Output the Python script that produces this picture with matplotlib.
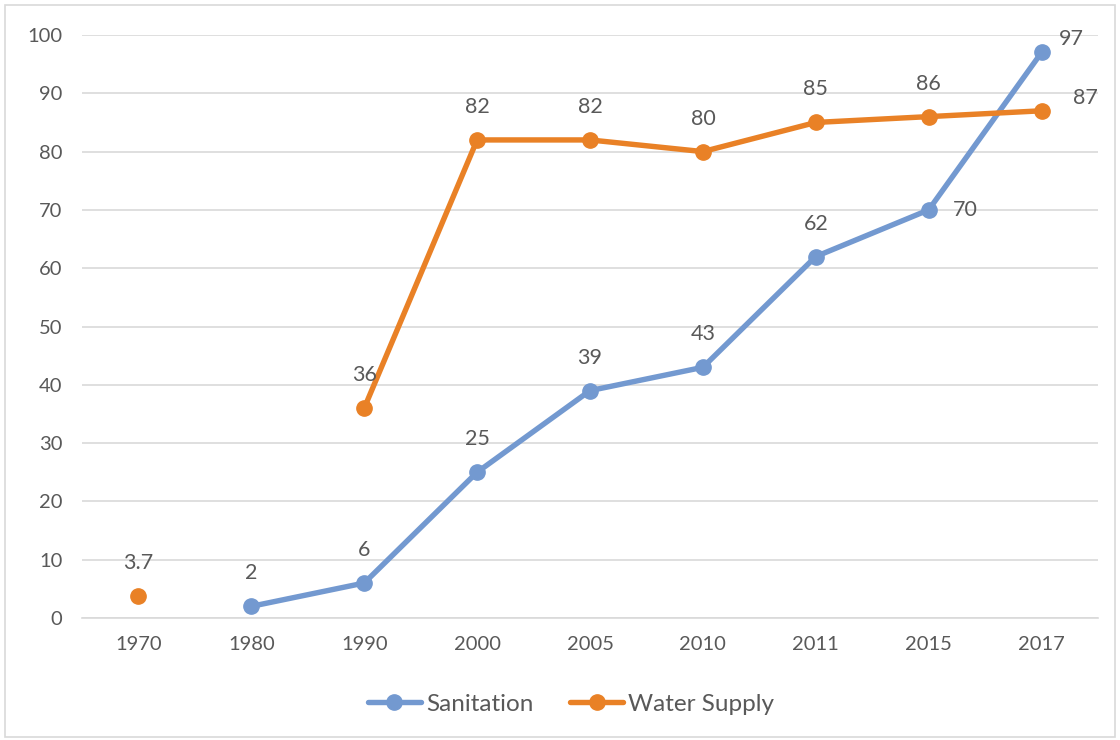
import numpy as np
import matplotlib
matplotlib.use("Agg")
import matplotlib.pyplot as plt
from matplotlib.patches import Rectangle

years = ["1970", "1980", "1990", "2000", "2005", "2010", "2011", "2015", "2017"]
sanitation = [np.nan, 2, 6, 25, 39, 43, 62, 70, 97]
water_supply = [3.7, np.nan, 36, 82, 82, 80, 85, 86, 87]
yticks = [0, 10, 20, 30, 40, 50, 60, 70, 80, 90, 100]

plt.rcParams['font.family'] = ['Lato', 'DejaVu Sans']
TXT = '#595959'
BLUE = '#7399D0'
ORANGE = '#E98126'

fig = plt.figure(figsize=(11.2, 7.4), dpi=100)
fig.patches.append(Rectangle((5/1120, 3/740), 1110/1120, 732/740, transform=fig.transFigure,
                             fill=False, edgecolor='#d9d9d9', lw=1.2))
ax = fig.add_axes([82/1120, 1 - 618/740, 1016/1120, 583/740])

x = np.arange(len(years))
ax.plot(x, sanitation, color=BLUE, lw=3.9, marker='o', ms=11, label='Sanitation', zorder=3,
        solid_capstyle='round')
ax.plot(x, water_supply, color=ORANGE, lw=3.9, marker='o', ms=11, label='Water Supply', zorder=3,
        solid_capstyle='round')

def fmt(v):
    return f"{v:g}"

special_s = {7: (37, 0), 8: (30, 13)}
special_w = {8: (44, 13)}
for i, v in enumerate(sanitation):
    if np.isnan(v):
        continue
    off = special_s.get(i, (0, 33))
    ax.annotate(fmt(v), (x[i], v), xytext=off, textcoords='offset pixels',
                ha='center', va='center', fontsize=15.5, color=TXT)
for i, v in enumerate(water_supply):
    if np.isnan(v):
        continue
    off = special_w.get(i, (0, 33))
    ax.annotate(fmt(v), (x[i], v), xytext=off, textcoords='offset pixels',
                ha='center', va='center', fontsize=15.5, color=TXT)

ax.set_xlim(-0.5, len(years) - 0.5)
ax.set_ylim(0, 100)
ax.set_yticks(yticks)
ax.set_xticks(x)
ax.set_xticklabels(years)
ax.grid(axis='y', color='#d9d9d9', lw=1.2)
ax.set_axisbelow(True)
for s in ['top', 'right', 'left']:
    ax.spines[s].set_visible(False)
ax.spines['bottom'].set_color('#d9d9d9')
ax.spines['bottom'].set_linewidth(1.2)
ax.tick_params(axis='both', length=0, labelsize=14.5, colors=TXT)
ax.tick_params(axis='y', pad=14)
ax.tick_params(axis='x', pad=13)

leg = fig.legend(loc='center', bbox_to_anchor=(571/1120, 1 - 704/740), ncol=2, frameon=False,
                 fontsize=17.5, handlelength=2.2, columnspacing=1.5, handletextpad=0.2)
for t in leg.get_texts():
    t.set_color(TXT)

fig.savefig('out.png', dpi=100)
